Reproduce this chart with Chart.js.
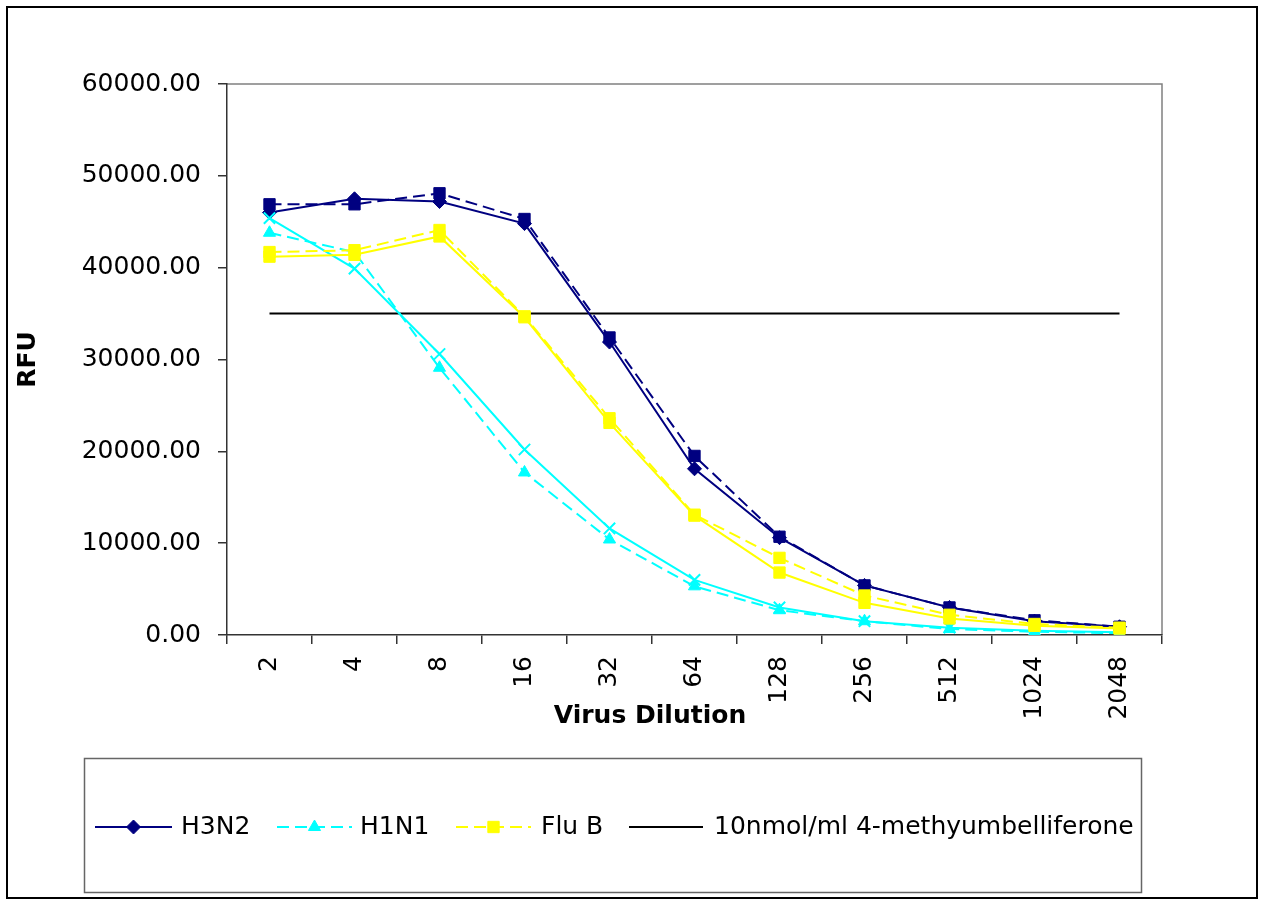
<!DOCTYPE html>
<html>
<head>
<meta charset="utf-8">
<title>RFU vs Virus Dilution</title>
<script src="https://cdn.jsdelivr.net/npm/chart.js@4.4.1/dist/chart.umd.min.js"></script>
<style>
    html, body { margin: 0; padding: 0; background: #fff; }
    #wrap { width: 1261px; height: 900px; }
</style>
</head>
<body>
<div id="wrap"><canvas id="rfuChart" width="1261" height="900"></canvas></div>
<script>
// dilution steps on the x axis
const dilutions = ['2', '4', '8', '16', '32', '64', '128', '256', '512', '1024', '2048'];

// RFU readings, two replicates per virus
const h3n2Rep1 = [46000, 47500, 47200, 44800, 31900, 18100, 10600, 5400, 3000, 1500, 900];
const h3n2Rep2 = [46900, 46900, 48100, 45300, 32400, 19500, 10700, 5400, 3000, 1600, 900];
const h1n1Rep1 = [45400, 39900, 30600, 20200, 11600, 6000, 3000, 1500, 800, 450, 300];
const h1n1Rep2 = [43800, 41700, 29100, 17700, 10400, 5300, 2700, 1500, 650, 350, 200];
const fluBRep1 = [41200, 41400, 43400, 34600, 23100, 13000, 6800, 3500, 1800, 1000, 700];
const fluBRep2 = [41700, 41900, 44100, 34700, 23600, 13100, 8400, 4300, 2200, 1200, 800];

// 10nmol/ml 4-methyumbelliferone reference reading
const refLevel = [35000, 35000, 35000, 35000, 35000, 35000, 35000, 35000, 35000, 35000, 35000];

const yTicks = [0, 10000, 20000, 30000, 40000, 50000, 60000];

const NAVY = '#000080';
const CYAN = '#00FFFF';
const YELLOW = '#FFFF00';
const FONT = '"DejaVu Sans", sans-serif';

Chart.defaults.font.family = FONT;
Chart.defaults.font.size = 25;
Chart.defaults.color = '#000';

function series(label, data, color, style, radius, dashed, order, markerWidth) {
    return {
        label: label,
        data: data,
        borderColor: color,
        backgroundColor: color,
        borderWidth: 2,
        borderDash: dashed ? [12, 6] : [],
        pointStyle: style,
        pointRadius: radius,
        pointBackgroundColor: color,
        pointBorderColor: color,
        pointBorderWidth: markerWidth || 1,
        tension: 0,
        fill: false,
        order: order
    };
}

// white page, outer frame and top/right edge of the plot area
const framePlugin = {
    id: 'frame',
    beforeDraw(chart) {
        const ctx = chart.ctx;
        ctx.save();
        ctx.fillStyle = '#fff';
        ctx.fillRect(0, 0, chart.width, chart.height);
        ctx.strokeStyle = '#000';
        ctx.lineWidth = 2;
        ctx.strokeRect(7, 7, 1250, 891);
        const a = chart.chartArea;
        ctx.strokeStyle = '#808080';
        ctx.lineWidth = 1.5;
        ctx.beginPath();
        ctx.moveTo(a.left, a.top);
        ctx.lineTo(a.right, a.top);
        ctx.lineTo(a.right, a.bottom);
        ctx.stroke();
        ctx.restore();
    },
    afterDraw(chart) {
        const ctx = chart.ctx;
        ctx.save();
        ctx.fillStyle = '#000';
        ctx.font = 'bold 25px ' + FONT;
        ctx.textAlign = 'center';
        ctx.textBaseline = 'middle';
        ctx.fillText('Virus Dilution', 650, 716);
        ctx.restore();
    }
};

// boxed legend under the chart, only one entry per virus
const legendItems = [
    { text: 'H3N2', color: NAVY, dash: [], style: 'rectRot', radius: 7, x0: 95, x1: 172, tx: 181 },
    { text: 'H1N1', color: CYAN, dash: [12, 6], style: 'triangle', radius: 7, x0: 277, x1: 352, tx: 360 },
    { text: 'Flu B', color: YELLOW, dash: [12, 6], style: 'rect', radius: 8, x0: 456, x1: 531, tx: 541 },
    { text: '10nmol/ml 4-methyumbelliferone', color: '#000', dash: [], style: null, radius: 0, x0: 629, x1: 703, tx: 714 }
];

const boxLegendPlugin = {
    id: 'boxLegend',
    afterDraw(chart) {
        const ctx = chart.ctx;
        const y = 827;
        ctx.save();
        ctx.strokeStyle = '#666';
        ctx.lineWidth = 1.5;
        ctx.strokeRect(84.5, 758.5, 1057, 134);
        legendItems.forEach(item => {
            ctx.strokeStyle = item.color;
            ctx.fillStyle = item.color;
            ctx.lineWidth = 2;
            ctx.setLineDash(item.dash);
            ctx.beginPath();
            ctx.moveTo(item.x0, y);
            ctx.lineTo(item.x1, y);
            ctx.stroke();
            ctx.setLineDash([]);
            if (item.style && Chart.helpers && Chart.helpers.drawPoint) {
                ctx.lineWidth = 1;
                Chart.helpers.drawPoint(ctx, {
                    pointStyle: item.style,
                    radius: item.radius,
                    rotation: 0,
                    borderWidth: 1
                }, (item.x0 + item.x1) / 2, y);
            }
            ctx.fillStyle = '#000';
            ctx.font = '25px ' + FONT;
            ctx.textAlign = 'left';
            ctx.textBaseline = 'middle';
            ctx.fillText(item.text, item.tx, y);
        });
        ctx.restore();
    }
};

const ctxRfu = document.getElementById('rfuChart').getContext('2d');
new Chart(ctxRfu, {
    type: 'line',
    data: {
        labels: dilutions,
        datasets: [
            series('H3N2', h3n2Rep1, NAVY, 'rectRot', 7, false, 4),
            series('H3N2 (2)', h3n2Rep2, NAVY, 'rect', 8, true, 4),
            series('H1N1 (2)', h1n1Rep1, CYAN, 'crossRot', 8, false, 3, 2),
            series('H1N1', h1n1Rep2, CYAN, 'triangle', 7, true, 3),
            series('Flu B (2)', fluBRep1, YELLOW, 'rect', 8, false, 2),
            series('Flu B', fluBRep2, YELLOW, 'rect', 8, true, 2),
            {
                label: '10nmol/ml 4-methyumbelliferone',
                data: refLevel,
                borderColor: '#000',
                borderWidth: 2,
                pointRadius: 0,
                fill: false,
                order: 5
            }
        ]
    },
    options: {
        responsive: false,
        animation: false,
        layout: { padding: { left: 0, top: 84, right: 99, bottom: 0 } },
        plugins: {
            legend: { display: false },
            tooltip: { enabled: false }
        },
        scales: {
            x: {
                type: 'category',
                offset: true,
                grid: {
                    display: true,
                    drawOnChartArea: false,
                    drawTicks: true,
                    tickLength: 9,
                    offset: true,
                    color: '#333',
                    lineWidth: 1.5
                },
                border: { display: true, color: '#333', width: 1.5 },
                ticks: { minRotation: 90, maxRotation: 90, autoSkip: false, padding: 12 },
                afterFit: scale => { scale.height = 265; }
            },
            y: {
                min: 0,
                max: 60000,
                afterBuildTicks: axis => { axis.ticks = yTicks.map(v => ({ value: v })); },
                grid: {
                    display: true,
                    drawOnChartArea: false,
                    drawTicks: true,
                    tickLength: 9,
                    color: '#333',
                    lineWidth: 1.5
                },
                border: { display: true, color: '#333', width: 1.5 },
                ticks: { padding: 17, callback: v => Number(v).toFixed(2) },
                title: {
                    display: true,
                    text: 'RFU',
                    font: { size: 25, weight: 'bold' },
                    padding: { top: 13, bottom: 0 }
                },
                afterFit: scale => { scale.width = 227; }
            }
        }
    },
    plugins: [framePlugin, boxLegendPlugin]
});
</script>
</body>
</html>
